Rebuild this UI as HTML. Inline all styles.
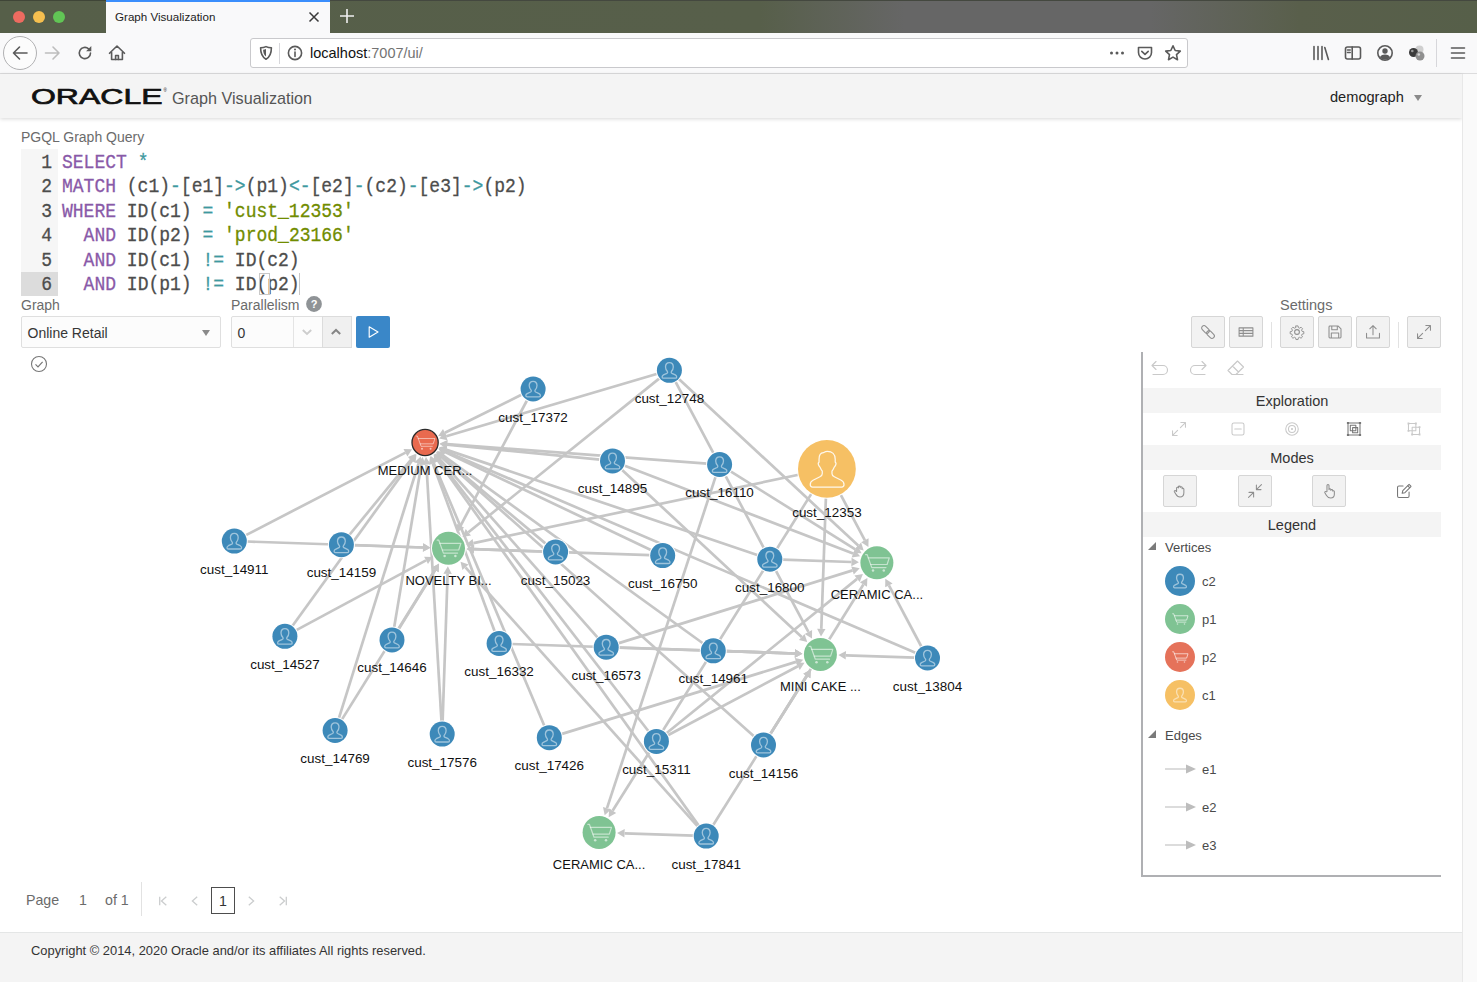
<!DOCTYPE html>
<html lang="en"><head><meta charset="utf-8"><title>Graph Visualization</title>
<style>
*{box-sizing:border-box}
html,body{margin:0;padding:0}
body{width:1477px;height:982px;position:relative;overflow:hidden;background:#fff;font-family:'Liberation Sans',Arial,sans-serif;color:#333;-webkit-font-smoothing:antialiased}
.abs{position:absolute}
#tabbar{left:0;top:0;width:1477px;height:33px;background:linear-gradient(90deg,#565f49 0,#575f4a 760px,#666666 905px,#666666 1150px,#595f4b 1300px,#565f49 100%)}
#tab{left:106px;top:0;width:224px;height:33px;background:#f9f9fa;border-top:2px solid #3b8efc}
#tabbar:before{content:'';position:absolute;left:0;top:0;width:106px;height:1px;background:#3f4537}
#tabbar:after{content:'';position:absolute;left:330px;top:0;width:1147px;height:1px;background:#44483f}
#tab span{position:absolute;left:9px;top:7.5px;font-size:11.6px;color:#222}
.tl{position:absolute;top:10.7px;width:12px;height:12px;border-radius:50%}
#toolbar{left:0;top:33px;width:1477px;height:41px;background:#f9f9fa;border-bottom:1px solid #dcdcdd}
#urlbar{left:250px;top:5px;width:938px;height:30px;background:#fff;border:1px solid #c9c9cc;border-radius:3px}
#page{left:0;top:74px;width:1462px;height:908px;background:#fff}
#vscroll{left:1462px;top:74px;width:15px;height:908px;background:#fafafa;border-left:1px solid #e8e8e8}
#hdr{left:0;top:0;width:1462px;height:44px;background:#f4f4f4;box-shadow:0 1px 4px rgba(0,0,0,.16)}
.lbl{font-size:14px;color:#6b6b6b;white-space:nowrap}
.ico{stroke:#5a5a5a;fill:none;stroke-width:1.6;stroke-linecap:round;stroke-linejoin:round}
#ed{left:21px;top:75px;width:1420px;height:147px;font-family:'Liberation Mono',monospace;font-size:20px;color:#4d4d4c;-webkit-text-stroke:.3px}
#gut{left:0;top:0;width:37px;height:147px;background:#f6f6f6}
.ln{position:absolute;left:0;height:24.5px;line-height:24.5px;white-space:pre;transform:scaleX(.9);transform-origin:0 0}
.gn{width:34.5px;text-align:right;color:#4d4d4c}
.k{color:#8959a8}.o{color:#3e999f}.s{color:#718c00}
.btn{position:absolute;width:34px;height:32px;background:#f2f2f2;border:1px solid #d6d6d6;border-radius:2px}
.btn svg,.pic svg{position:absolute;left:50%;top:50%;transform:translate(-50%,-50%)}
.gi{stroke:#8e8e8e;fill:none;stroke-width:1.15;stroke-linecap:round;stroke-linejoin:round}
.band{position:absolute;left:0;width:298px;height:25px;padding-top:1px;background:#f4f4f4;text-align:center;font-size:14.5px;line-height:25px;color:#333}
.lg{position:absolute;font-size:13px;color:#4a4a4a;white-space:nowrap}
</style></head><body>

<div id="tabbar" class="abs">
<div class="tl" style="left:13px;background:#ed6b60"></div><div class="tl" style="left:33px;background:#f5bf4f"></div><div class="tl" style="left:53px;background:#61c555"></div>
<div id="tab" class="abs"><span>Graph Visualization</span>
<svg class="abs" style="left:201px;top:8px" width="14" height="14" viewBox="0 0 14 14"><path d="M2.5,2.5l9,9M11.5,2.5l-9,9" stroke="#3a3a3a" stroke-width="1.5" fill="none"/></svg></div>
<svg class="abs" style="left:338px;top:7px" width="18" height="18" viewBox="0 0 18 18"><path d="M9,2v14M2,9h14" stroke="#f0f0f0" stroke-width="1.6" fill="none"/></svg>
</div>
<div id="toolbar" class="abs">
<div class="abs" style="left:3px;top:3px;width:34px;height:34px;border-radius:50%;border:1px solid #b1b1b3;background:#fcfcfc"></div>
<svg class="abs" style="left:10px;top:10px" width="20" height="20" viewBox="0 0 20 20"><path class="ico" stroke-width="1.8" d="M17,10H3.5M9.5,4L3.5,10l6,6"/></svg>
<svg class="abs" style="left:43px;top:10px" width="20" height="20" viewBox="0 0 20 20"><path class="ico" style="stroke:#bdbdbd" stroke-width="1.8" d="M2.5,10H16M10,4l6,6l-6,6"/></svg>
<svg class="abs" style="left:75px;top:10px" width="20" height="20" viewBox="0 0 20 20"><path class="ico" stroke-width="1.8" d="M15.5,10a5.6,5.6 0 1 1 -1.9,-4.2"/><path d="M16.3,3v5.2h-5.2z" fill="#5a5a5a"/></svg>
<svg class="abs" style="left:107px;top:10px" width="20" height="20" viewBox="0 0 20 20"><path class="ico" stroke-width="1.8" d="M2.5,10.3L10,3l7.5,7.3M4.6,9.5v7h10.8v-7"/><path d="M8.6,16.5v-4h2.8v4" class="ico" stroke-width="1.6"/></svg>
<div id="urlbar" class="abs">
<svg class="abs" style="left:7px;top:6px" width="16" height="16" viewBox="0 0 16 16"><path class="ico" stroke-width="1.5" d="M8,1.6c2,1,3.6,1.2,5.4,1.2c0,5,-1.2,9.2,-5.4,11.4c-4.200,-2.200,-5.400,-6.400,-5.400,-11.400c1.800,0,3.400,-0.200,5.400,-1.200z"/><path d="M8,4v7.600c-2,-1.500,-2.800,-4,-2.900,-6.900c1,0,2,-0.300,2.900,-0.700z" fill="#5a5a5a"/></svg>
<div class="abs" style="left:28px;top:4px;width:1px;height:21px;background:#d7d7db"></div>
<svg class="abs" style="left:36px;top:6px" width="16" height="16" viewBox="0 0 16 16"><circle cx="8" cy="8" r="6.600" class="ico" stroke-width="1.2"/><path d="M8,7v4.500" class="ico" stroke-width="1.6"/><circle cx="8" cy="4.600" r="1" fill="#5a5a5a"/></svg>
<span class="abs" style="left:59px;top:6.300px;font-size:14.500px;color:#111;white-space:nowrap">localhost<span style="color:#737373">:7007/ui/</span></span>
<svg class="abs" style="left:858px;top:6px" width="16" height="16" viewBox="0 0 16 16"><circle cx="2.500" cy="8" r="1.500" fill="#5a5a5a"/><circle cx="8" cy="8" r="1.500" fill="#5a5a5a"/><circle cx="13.500" cy="8" r="1.500" fill="#5a5a5a"/></svg>
<svg class="abs" style="left:886px;top:6px" width="16" height="16" viewBox="0 0 16 16"><path class="ico" stroke-width="1.500" d="M1.500,2.500h13v5a6.500,6.500 0 0 1 -13,0z"/><path class="ico" stroke-width="1.600" d="M4.800,6.300L8,9.300l3.200,-3"/></svg>
<svg class="abs" style="left:913px;top:5px" width="18" height="18" viewBox="0 0 18 18"><path class="ico" stroke-width="1.500" d="M9,1.800l2.200,4.700l5.100,0.600l-3.800,3.500l1,5.100l-4.500,-2.600l-4.500,2.600l1,-5.100l-3.800,-3.500l5.100,-0.600z"/></svg>
</div>
<svg class="abs" style="left:1312px;top:11px" width="18" height="18" viewBox="0 0 18 18"><path class="ico" stroke-width="1.700" d="M2,2.500v13M6,2.500v13M10,2.500v13M12.800,3.500l3.600,12"/></svg>
<svg class="abs" style="left:1344px;top:11px" width="18" height="18" viewBox="0 0 18 18"><rect x="1.500" y="3" width="15" height="12" rx="2" class="ico" stroke-width="1.500"/><path d="M8.200,3v12" class="ico" stroke-width="1.500"/><path d="M3.500,6h2.700M3.500,8.500h2.700" class="ico" stroke-width="1.200"/></svg>
<svg class="abs" style="left:1376px;top:11px" width="18" height="18" viewBox="0 0 18 18"><circle cx="9" cy="9" r="7.200" class="ico" stroke-width="1.400"/><circle cx="9" cy="7" r="2.700" fill="#5a5a5a"/><path d="M3.800,13.200c1.200,-2,3,-2.700,5.200,-2.700s4,0.700,5.200,2.700c-1.400,1.700,-3.200,2.500,-5.200,2.500s-3.800,-0.800,-5.200,-2.500z" fill="#5a5a5a"/></svg>
<svg class="abs" style="left:1407px;top:10px" width="20" height="20" viewBox="0 0 20 20"><circle cx="12.500" cy="6.500" r="4" fill="#cfcfcf"/><circle cx="6.500" cy="9.500" r="4.500" fill="#3b3b3b"/><circle cx="13" cy="13" r="4.500" fill="#8f8f8f"/><circle cx="5.300" cy="8" r="1.300" fill="#9a9a9a"/><circle cx="11.800" cy="11.500" r="1.300" fill="#d5d5d5"/></svg>
<div class="abs" style="left:1436px;top:6px;width:1px;height:28px;background:#d7d7db"></div>
<svg class="abs" style="left:1449px;top:11px" width="18" height="18" viewBox="0 0 18 18"><path class="ico" stroke-width="1.800" d="M2.500,4h13M2.500,9h13M2.500,14h13"/></svg>
</div>
<div id="page" class="abs">
<div id="hdr" class="abs">
<svg class="abs" style="left:30px;top:12px" width="140" height="20" viewBox="0 0 140 20"><text x="1" y="17.500" font-family="'Liberation Sans',Arial,sans-serif" font-size="22.800" fill="#111" stroke="#111" stroke-width=".7" textLength="131.500" lengthAdjust="spacingAndGlyphs">ORACLE</text><text x="133.500" y="6" font-family="'Liberation Sans',Arial,sans-serif" font-size="4.500" fill="#111">®</text></svg>
<span class="abs" style="left:172px;top:14.500px;font-size:16.200px;color:#555;white-space:nowrap">Graph Visualization</span>
<span class="abs" style="left:1330px;top:14.700px;font-size:14.600px;color:#222;white-space:nowrap">demograph</span>
<div class="abs" style="left:1413.500px;top:20.500px;width:0;height:0;border-left:4.500px solid transparent;border-right:4.500px solid transparent;border-top:6px solid #8a8a8a"></div>
</div>
<span class="lbl abs" style="left:21px;top:54.700px">PGQL Graph Query</span>
<div id="ed" class="abs"><div id="gut" class="abs"><div class="abs" style="left:0;top:122.500px;width:37px;height:24.500px;background:#dcdcdc"></div></div>
<div class="ln gn" style="top:1.7px">1</div><div class="ln" style="left:41px;top:1.7px"><span class="k">SELECT</span> <span class="o">*</span></div>
<div class="ln gn" style="top:26.2px">2</div><div class="ln" style="left:41px;top:26.2px"><span class="k">MATCH</span> (c1)<span class="o">-</span>[e1]<span class="o">-&gt;</span>(p1)<span class="o">&lt;-</span>[e2]<span class="o">-</span>(c2)<span class="o">-</span>[e3]<span class="o">-&gt;</span>(p2)</div>
<div class="ln gn" style="top:50.7px">3</div><div class="ln" style="left:41px;top:50.7px"><span class="k">WHERE</span> ID(c1) <span class="o">=</span> <span class="s">'cust_12353'</span></div>
<div class="ln gn" style="top:75.2px">4</div><div class="ln" style="left:41px;top:75.2px">  <span class="k">AND</span> ID(p2) <span class="o">=</span> <span class="s">'prod_23166'</span></div>
<div class="ln gn" style="top:99.7px">5</div><div class="ln" style="left:41px;top:99.7px">  <span class="k">AND</span> ID(c1) <span class="o">!=</span> ID(c2)</div>
<div class="ln gn" style="top:124.2px">6</div><div class="ln" style="left:41px;top:124.2px">  <span class="k">AND</span> ID(p1) <span class="o">!=</span> ID(p2)</div>
<div class="abs" style="left:237.500px;top:124px;width:11px;height:22px;border:1px solid #c8c8c8"></div><div class="abs" style="left:277.500px;top:124px;width:1px;height:22px;background:#c8c8c8"></div>
</div>
<span class="lbl abs" style="left:21px;top:223px">Graph</span>
<div class="abs" style="left:21px;top:242px;width:200px;height:32px;border:1px solid #dfdfdf;border-radius:2px;background:#fcfcfc"><span class="abs" style="left:5.500px;top:7.500px;font-size:14px;color:#363636;white-space:nowrap">Online Retail</span>
<div class="abs" style="left:180px;top:13px;width:0;height:0;border-left:4.500px solid transparent;border-right:4.500px solid transparent;border-top:6px solid #8a8a8a"></div></div>
<span class="lbl abs" style="left:231px;top:223px">Parallelism</span>
<svg class="abs" style="left:306px;top:222px" width="16" height="16" viewBox="0 0 16 16"><circle cx="8" cy="8" r="7.900" fill="#8f9396"/><text x="8" y="12" text-anchor="middle" font-family="'Liberation Sans',Arial,sans-serif" font-weight="bold" font-size="11" fill="#fff">?</text></svg>
<div class="abs" style="left:231px;top:242px;width:121px;height:32px;border:1px solid #dfdfdf;border-radius:2px;background:#fcfcfc"><span class="abs" style="left:5.500px;top:7.500px;font-size:14px;color:#363636">0</span>
<div class="abs" style="left:61px;top:0;width:1px;height:30px;background:#e4e4e4"></div>
<svg class="abs" style="left:69px;top:9px" width="12" height="12" viewBox="0 0 12 12"><path d="M1.800,4l4.200,4l4.200,-4" stroke="#cdcdcd" stroke-width="1.900" fill="none"/></svg>
<div class="abs" style="left:90px;top:-1px;width:30px;height:32px;background:#f0f0f0;border:1px solid #dcdcdc"></div>
<svg class="abs" style="left:98px;top:9px" width="12" height="12" viewBox="0 0 12 12"><path d="M1.800,8l4.200,-4l4.200,4" stroke="#858585" stroke-width="2" fill="none"/></svg></div>
<div class="abs" style="left:356px;top:242px;width:34px;height:32px;background:#3a87c8;border-radius:2px"><svg class="abs" style="left:10px;top:8px" width="16" height="16" viewBox="0 0 16 16"><path d="M3.200,2.800L12,8L3.200,13.200z" stroke="#fff" stroke-width="1.150" fill="none" stroke-linejoin="round"/></svg></div>
<svg class="abs" style="left:30px;top:281px" width="18" height="18" viewBox="0 0 18 18"><circle cx="9" cy="9" r="7.500" stroke="#777" stroke-width="1.100" fill="none"/><path d="M5.500,9.300l2.500,2.500l4.600,-5" stroke="#777" stroke-width="1.200" fill="none"/></svg>
<span class="lbl abs" style="left:1280px;top:223.300px;font-size:14.500px">Settings</span>
<div class="btn" style="left:1191px;top:242px"><svg width="16.600" height="16.600" viewBox="0 0 18 18"><g class="gi" transform="rotate(-45 9 9)"><rect x="6.400" y="0.300" width="5.200" height="9.600" rx="2.600"/><rect x="6.400" y="8.100" width="5.200" height="9.600" rx="2.600"/></g></svg></div>
<div class="btn" style="left:1229px;top:242px"><svg width="16.600" height="16.600" viewBox="0 0 18 18"><path class="gi" d="M1.500,4.500h15v9h-15zM1.500,7.500h15M1.500,10.500h15M6,4.500v9"/></svg></div>
<div class="btn" style="left:1280px;top:242px"><svg width="16.600" height="16.600" viewBox="0 0 18 18"><circle class="gi" cx="9" cy="9" r="2.600"/><path class="gi" d="M7.700,1.500h2.600l0.400,2.100l1.500,0.700l1.800,-1.200l1.800,1.800l-1.200,1.800l0.700,1.500l2.100,0.400v2.600l-2.100,0.400l-0.700,1.500l1.200,1.800l-1.800,1.800l-1.800,-1.200l-1.500,0.700l-0.400,2.100h-2.600l-0.400,-2.100l-1.500,-0.700l-1.800,1.200l-1.800,-1.800l1.200,-1.800l-0.700,-1.500l-2.100,-0.400v-2.600l2.100,-0.400l0.700,-1.500l-1.200,-1.800l1.800,-1.800l1.800,1.200l1.500,-0.700z" transform="translate(9 9) scale(.88) translate(-9 -9)"/></svg></div>
<div class="btn" style="left:1318px;top:242px"><svg width="16.600" height="16.600" viewBox="0 0 18 18"><path class="gi" d="M3.500,2.500h9l3,3v9a1,1 0 0 1 -1,1h-11a1,1 0 0 1 -1,-1v-11a1,1 0 0 1 1,-1zM5.500,2.500v4h6v-4M5,15.500v-5.500h8v5.500"/></svg></div>
<div class="btn" style="left:1356px;top:242px"><svg width="16.600" height="16.600" viewBox="0 0 18 18"><path class="gi" d="M2,10.500v5h14v-5M9,12v-10M5.500,5.500l3.500,-3.500l3.500,3.500"/></svg></div>
<div class="btn" style="left:1407px;top:242px"><svg width="16.600" height="16.600" viewBox="0 0 18 18"><path class="gi" d="M10.500,7.500l5.500,-5.500M11,2h5v5M7.500,10.500l-5.500,5.500M2,11v5h5"/></svg></div>
<div class="abs" style="left:1271px;top:248px;width:1px;height:26px;background:#e2e2e2"></div><div class="abs" style="left:1398px;top:248px;width:1px;height:26px;background:#e2e2e2"></div>
</div>
<svg id="graph" width="1120" height="530" viewBox="20 352 1120 530" style="position:absolute;left:20px;top:352px">
<g stroke="#c6c6c6" stroke-width="2.7" fill="#c6c6c6">
<path d="M245.4,535.4L405.5,452.6"/><path stroke="none" d="M412.1,449.2L407.4,456.4L403.5,448.9z"/>
<path d="M349.3,535.0L411.1,459.6"/><path stroke="none" d="M415.9,453.8L414.3,462.3L407.8,456.9z"/>
<path d="M546.0,543.9L442.0,456.7"/><path stroke="none" d="M436.3,451.9L444.7,453.5L439.3,459.9z"/>
<path d="M651.4,550.2L445.1,452.0"/><path stroke="none" d="M438.3,448.8L446.9,448.2L443.3,455.8z"/>
<path d="M758.0,555.2L446.0,449.6"/><path stroke="none" d="M438.9,447.2L447.4,445.6L444.7,453.6z"/>
<path d="M292.2,626.2L412.1,460.4"/><path stroke="none" d="M416.5,454.3L415.5,462.9L408.7,457.9z"/>
<path d="M394.1,627.6L421.4,464.3"/><path stroke="none" d="M422.7,456.9L425.6,465.0L417.3,463.6z"/>
<path d="M494.8,631.8L432.7,463.2"/><path stroke="none" d="M430.1,456.2L436.7,461.8L428.8,464.7z"/>
<path d="M597.9,637.8L439.7,459.1"/><path stroke="none" d="M434.8,453.4L442.9,456.3L436.6,461.8z"/>
<path d="M703.2,643.5L443.0,455.4"/><path stroke="none" d="M436.9,451.1L445.5,452.0L440.6,458.8z"/>
<path d="M916.0,653.1L445.4,451.2"/><path stroke="none" d="M438.5,448.3L447.1,447.4L443.8,455.1z"/>
<path d="M338.8,718.6L418.5,463.6"/><path stroke="none" d="M420.7,456.4L422.5,464.8L414.5,462.3z"/>
<path d="M441.5,721.6L426.4,464.6"/><path stroke="none" d="M426.0,457.1L430.6,464.3L422.2,464.8z"/>
<path d="M544.5,726.2L433.7,462.9"/><path stroke="none" d="M430.8,456.0L437.5,461.2L429.8,464.5z"/>
<path d="M648.7,731.5L438.6,460.0"/><path stroke="none" d="M434.0,454.0L441.9,457.4L435.3,462.5z"/>
<path d="M754.2,736.6L441.6,457.2"/><path stroke="none" d="M436.0,452.2L444.4,454.1L438.8,460.4z"/>
<path d="M698.9,825.9L437.9,460.5"/><path stroke="none" d="M433.6,454.4L441.4,458.0L434.5,462.9z"/>
<path d="M600.1,459.7L447.1,444.7"/><path stroke="none" d="M439.6,443.9L447.5,440.5L446.7,448.8z"/>
<path d="M707.1,463.6L447.1,444.1"/><path stroke="none" d="M439.7,443.6L447.5,440.0L446.8,448.3z"/>
<path d="M657.4,373.8L446.3,436.2"/><path stroke="none" d="M439.1,438.4L445.1,432.2L447.5,440.3z"/>
<path d="M521.9,394.5L444.9,432.7"/><path stroke="none" d="M438.2,436.0L443.0,428.9L446.8,436.5z"/>
<path d="M798.6,474.8L473.5,543.1"/><path stroke="none" d="M466.1,544.6L472.6,539.0L474.3,547.2z"/>
<path d="M840.5,494.4L864.9,540.3"/><path stroke="none" d="M868.4,546.9L861.2,542.3L868.6,538.3z"/>
<path d="M825.9,497.8L821.3,628.9"/><path stroke="none" d="M821.0,636.4L817.1,628.8L825.5,629.1z"/>
<path d="M811.6,493.4L612.6,810.8"/><path stroke="none" d="M608.7,817.2L609.1,808.6L616.2,813.1z"/>
<path d="M527.2,400.0L460.5,525.8"/><path stroke="none" d="M456.9,532.4L456.7,523.8L464.2,527.8z"/>
<path d="M659.7,378.1L468.4,532.3"/><path stroke="none" d="M462.5,537.0L465.7,529.1L471.0,535.6z"/>
<path d="M678.6,378.8L858.2,545.5"/><path stroke="none" d="M863.7,550.6L855.4,548.6L861.1,542.4z"/>
<path d="M675.3,381.3L808.4,631.9"/><path stroke="none" d="M812.0,638.5L804.7,633.9L812.1,629.9z"/>
<path d="M624.2,465.4L853.1,553.6"/><path stroke="none" d="M860.1,556.3L851.6,557.6L854.6,549.7z"/>
<path d="M621.6,469.4L801.7,637.0"/><path stroke="none" d="M807.2,642.1L798.9,640.1L804.6,634.0z"/>
<path d="M730.2,471.1L855.3,549.3"/><path stroke="none" d="M861.6,553.3L853.1,552.9L857.5,545.7z"/>
<path d="M715.7,476.4L607.0,808.2"/><path stroke="none" d="M604.7,815.3L603.0,806.9L611.0,809.5z"/>
<path d="M246.8,541.5L423.0,547.5"/><path stroke="none" d="M430.5,547.7L422.9,551.7L423.2,543.3z"/>
<path d="M353.9,545.1L423.0,547.5"/><path stroke="none" d="M430.5,547.7L422.9,551.7L423.2,543.3z"/>
<path d="M543.1,551.5L474.0,549.2"/><path stroke="none" d="M466.5,548.9L474.1,545.0L473.8,553.4z"/>
<path d="M650.2,555.2L474.0,549.2"/><path stroke="none" d="M466.5,548.9L474.1,545.0L473.8,553.4z"/>
<path d="M782.3,559.6L851.4,562.0"/><path stroke="none" d="M858.9,562.2L851.3,566.2L851.6,557.8z"/>
<path d="M295.9,630.4L426.0,560.4"/><path stroke="none" d="M432.6,556.9L428.0,564.1L424.1,556.7z"/>
<path d="M398.6,629.3L435.1,570.0"/><path stroke="none" d="M439.0,563.7L438.7,572.2L431.5,567.8z"/>
<path d="M511.6,644.0L794.9,653.5"/><path stroke="none" d="M802.4,653.8L794.8,657.7L795.1,649.3z"/>
<path d="M618.1,643.4L852.6,570.4"/><path stroke="none" d="M859.7,568.2L853.8,574.4L851.3,566.4z"/>
<path d="M618.7,647.6L794.9,653.5"/><path stroke="none" d="M802.4,653.8L794.8,657.7L795.1,649.3z"/>
<path d="M725.8,651.2L794.9,653.5"/><path stroke="none" d="M802.4,653.8L794.8,657.7L795.1,649.3z"/>
<path d="M915.0,657.6L845.9,655.3"/><path stroke="none" d="M838.4,655.0L846.0,651.1L845.7,659.5z"/>
<path d="M921.6,647.0L888.9,585.3"/><path stroke="none" d="M885.3,578.7L892.6,583.4L885.2,587.3z"/>
<path d="M341.7,719.9L435.0,570.0"/><path stroke="none" d="M439.0,563.6L438.6,572.2L431.5,567.8z"/>
<path d="M442.6,721.6L447.6,573.8"/><path stroke="none" d="M447.9,566.3L451.8,574.0L443.4,573.7z"/>
<path d="M561.2,734.1L796.0,661.9"/><path stroke="none" d="M803.2,659.7L797.3,665.9L794.8,657.9z"/>
<path d="M667.4,735.5L797.9,666.3"/><path stroke="none" d="M804.5,662.8L799.8,670.1L795.9,662.6z"/>
<path d="M666.1,733.5L857.1,578.9"/><path stroke="none" d="M862.9,574.1L859.7,582.1L854.4,575.6z"/>
<path d="M770.1,734.4L806.8,676.0"/><path stroke="none" d="M810.8,669.6L810.4,678.2L803.3,673.8z"/>
<path d="M770.1,734.4L863.4,584.5"/><path stroke="none" d="M867.4,578.1L867.0,586.7L859.9,582.2z"/>
<path d="M693.7,835.6L624.6,833.3"/><path stroke="none" d="M617.1,833.0L624.7,829.1L624.4,837.5z"/>
<path d="M697.9,826.7L465.5,567.3"/><path stroke="none" d="M460.5,561.7L468.6,564.5L462.4,570.1z"/>
<path d="M712.9,825.5L806.8,676.0"/><path stroke="none" d="M810.8,669.6L810.4,678.2L803.3,673.8z"/>
</g>
<g font-family="'Liberation Sans',Arial,sans-serif" font-size="13.45" text-anchor="middle" fill="#111">
<g transform="translate(234.3,541.1)"><circle r="13.5" fill="#fff"/><circle r="12.5" fill="#3d89b9" /><path transform="scale(1.000)" d="M0,-7.7C2.4,-7.700 3.900,-5.900 3.900,-3.400C3.900,-1.500 3,0 2,1.200C1.600,1.800 1.800,2.600 2.500,3L5.900,4.600C6.800,5.100 7.300,5.700 7.300,6.600C7.300,7.400 6.800,7.900 6,7.900H-6C-6.800,7.900 -7.300,7.400 -7.300,6.600C-7.300,5.700 -6.800,5.100 -5.900,4.600L-2.500,3C-1.800,2.600 -1.600,1.800 -2,1.200C-3,0 -3.900,-1.500 -3.900,-3.400C-3.900,-5.900 -2.400,-7.700 0,-7.700Z" fill="none" stroke="#fff" stroke-opacity="0.5" stroke-width="1.30" stroke-linejoin="round"/></g>
<text x="234.3" y="573.6">cust_14911</text>
<g transform="translate(341.4,544.7)"><circle r="13.5" fill="#fff"/><circle r="12.5" fill="#3d89b9" /><path transform="scale(1.000)" d="M0,-7.7C2.4,-7.700 3.900,-5.900 3.900,-3.400C3.900,-1.500 3,0 2,1.200C1.600,1.800 1.800,2.600 2.500,3L5.900,4.600C6.800,5.100 7.300,5.700 7.300,6.600C7.300,7.400 6.800,7.900 6,7.900H-6C-6.800,7.900 -7.300,7.400 -7.300,6.600C-7.300,5.700 -6.800,5.100 -5.900,4.600L-2.500,3C-1.800,2.600 -1.600,1.800 -2,1.200C-3,0 -3.900,-1.500 -3.900,-3.400C-3.900,-5.900 -2.400,-7.700 0,-7.700Z" fill="none" stroke="#fff" stroke-opacity="0.5" stroke-width="1.30" stroke-linejoin="round"/></g>
<text x="341.4" y="577.2">cust_14159</text>
<g transform="translate(448.5,548.3)"><circle r="17.5" fill="#fff"/><circle r="16.5" fill="#7fc393" /><g transform="scale(1.000)" fill="none" stroke="#fff" stroke-opacity=".55" stroke-width="1.2" stroke-linecap="round" stroke-linejoin="round"><path d="M-11.3,-8.1H-9.7L-5.1,4.8H9.1"/><path d="M-8.7,-5H12.4L10.2,1.700H-6.100"/><circle cx="-3.900" cy="7.800" r="1.250" fill="#fff" fill-opacity=".6" stroke="none"/><circle cx="6.900" cy="7.800" r="1.250" fill="#fff" fill-opacity=".6" stroke="none"/></g></g>
<text x="448.5" y="584.6" font-size="13">NOVELTY BI...</text>
<g transform="translate(555.6,552.0)"><circle r="13.5" fill="#fff"/><circle r="12.5" fill="#3d89b9" /><path transform="scale(1.000)" d="M0,-7.7C2.4,-7.700 3.900,-5.900 3.900,-3.400C3.900,-1.500 3,0 2,1.200C1.600,1.800 1.800,2.600 2.500,3L5.900,4.600C6.800,5.100 7.300,5.700 7.300,6.600C7.300,7.400 6.800,7.900 6,7.900H-6C-6.800,7.900 -7.300,7.400 -7.300,6.600C-7.300,5.700 -6.800,5.100 -5.900,4.600L-2.500,3C-1.800,2.600 -1.600,1.800 -2,1.200C-3,0 -3.900,-1.500 -3.900,-3.400C-3.900,-5.900 -2.400,-7.700 0,-7.700Z" fill="none" stroke="#fff" stroke-opacity="0.5" stroke-width="1.30" stroke-linejoin="round"/></g>
<text x="555.6" y="584.5">cust_15023</text>
<g transform="translate(662.7,555.6)"><circle r="13.5" fill="#fff"/><circle r="12.5" fill="#3d89b9" /><path transform="scale(1.000)" d="M0,-7.7C2.4,-7.700 3.900,-5.900 3.900,-3.400C3.900,-1.500 3,0 2,1.200C1.600,1.800 1.800,2.600 2.500,3L5.900,4.600C6.800,5.100 7.300,5.700 7.300,6.600C7.300,7.400 6.800,7.900 6,7.900H-6C-6.800,7.900 -7.300,7.400 -7.300,6.600C-7.300,5.700 -6.800,5.100 -5.900,4.600L-2.500,3C-1.800,2.600 -1.600,1.800 -2,1.200C-3,0 -3.900,-1.500 -3.900,-3.400C-3.900,-5.900 -2.400,-7.700 0,-7.700Z" fill="none" stroke="#fff" stroke-opacity="0.5" stroke-width="1.30" stroke-linejoin="round"/></g>
<text x="662.7" y="588.1">cust_16750</text>
<g transform="translate(769.8,559.2)"><circle r="13.5" fill="#fff"/><circle r="12.5" fill="#3d89b9" /><path transform="scale(1.000)" d="M0,-7.7C2.4,-7.700 3.900,-5.900 3.900,-3.400C3.900,-1.500 3,0 2,1.200C1.600,1.800 1.800,2.600 2.500,3L5.900,4.600C6.800,5.100 7.300,5.700 7.300,6.600C7.300,7.400 6.800,7.900 6,7.900H-6C-6.800,7.900 -7.300,7.400 -7.300,6.600C-7.300,5.700 -6.800,5.100 -5.900,4.600L-2.500,3C-1.800,2.600 -1.600,1.800 -2,1.200C-3,0 -3.900,-1.500 -3.900,-3.400C-3.900,-5.900 -2.400,-7.700 0,-7.700Z" fill="none" stroke="#fff" stroke-opacity="0.5" stroke-width="1.30" stroke-linejoin="round"/></g>
<text x="769.8" y="591.7">cust_16800</text>
<g transform="translate(876.9,562.8)"><circle r="17.5" fill="#fff"/><circle r="16.5" fill="#7fc393" /><g transform="scale(1.000)" fill="none" stroke="#fff" stroke-opacity=".55" stroke-width="1.2" stroke-linecap="round" stroke-linejoin="round"><path d="M-11.3,-8.1H-9.7L-5.1,4.8H9.1"/><path d="M-8.7,-5H12.4L10.2,1.700H-6.100"/><circle cx="-3.900" cy="7.800" r="1.250" fill="#fff" fill-opacity=".6" stroke="none"/><circle cx="6.900" cy="7.800" r="1.250" fill="#fff" fill-opacity=".6" stroke="none"/></g></g>
<text x="876.9" y="599.1" font-size="13">CERAMIC CA...</text>
<g transform="translate(284.9,636.3)"><circle r="13.5" fill="#fff"/><circle r="12.5" fill="#3d89b9" /><path transform="scale(1.000)" d="M0,-7.7C2.4,-7.700 3.900,-5.900 3.900,-3.400C3.900,-1.500 3,0 2,1.200C1.600,1.800 1.800,2.600 2.500,3L5.900,4.600C6.800,5.100 7.300,5.700 7.300,6.600C7.300,7.400 6.800,7.900 6,7.900H-6C-6.800,7.900 -7.300,7.400 -7.300,6.600C-7.300,5.700 -6.800,5.100 -5.900,4.600L-2.500,3C-1.800,2.600 -1.600,1.800 -2,1.200C-3,0 -3.900,-1.500 -3.900,-3.400C-3.900,-5.900 -2.400,-7.700 0,-7.700Z" fill="none" stroke="#fff" stroke-opacity="0.5" stroke-width="1.30" stroke-linejoin="round"/></g>
<text x="284.9" y="668.8">cust_14527</text>
<g transform="translate(392.0,639.9)"><circle r="13.5" fill="#fff"/><circle r="12.5" fill="#3d89b9" /><path transform="scale(1.000)" d="M0,-7.7C2.4,-7.700 3.900,-5.900 3.900,-3.400C3.900,-1.500 3,0 2,1.200C1.600,1.800 1.800,2.600 2.500,3L5.900,4.600C6.800,5.100 7.300,5.700 7.300,6.600C7.300,7.400 6.800,7.900 6,7.900H-6C-6.800,7.900 -7.300,7.400 -7.300,6.600C-7.300,5.700 -6.800,5.100 -5.900,4.600L-2.500,3C-1.800,2.600 -1.600,1.800 -2,1.200C-3,0 -3.900,-1.500 -3.900,-3.400C-3.900,-5.900 -2.400,-7.700 0,-7.700Z" fill="none" stroke="#fff" stroke-opacity="0.5" stroke-width="1.30" stroke-linejoin="round"/></g>
<text x="392.0" y="672.4">cust_14646</text>
<g transform="translate(499.1,643.5)"><circle r="13.5" fill="#fff"/><circle r="12.5" fill="#3d89b9" /><path transform="scale(1.000)" d="M0,-7.7C2.4,-7.700 3.900,-5.900 3.900,-3.400C3.900,-1.500 3,0 2,1.200C1.600,1.800 1.800,2.600 2.500,3L5.900,4.600C6.800,5.100 7.300,5.700 7.300,6.600C7.300,7.400 6.800,7.900 6,7.900H-6C-6.800,7.900 -7.300,7.400 -7.300,6.600C-7.300,5.700 -6.800,5.100 -5.900,4.600L-2.500,3C-1.800,2.600 -1.600,1.800 -2,1.200C-3,0 -3.900,-1.500 -3.900,-3.400C-3.900,-5.900 -2.400,-7.700 0,-7.700Z" fill="none" stroke="#fff" stroke-opacity="0.5" stroke-width="1.30" stroke-linejoin="round"/></g>
<text x="499.1" y="676.0">cust_16332</text>
<g transform="translate(606.2,647.2)"><circle r="13.5" fill="#fff"/><circle r="12.5" fill="#3d89b9" /><path transform="scale(1.000)" d="M0,-7.7C2.4,-7.700 3.900,-5.900 3.900,-3.400C3.900,-1.500 3,0 2,1.200C1.600,1.800 1.800,2.600 2.500,3L5.900,4.600C6.800,5.100 7.300,5.700 7.300,6.600C7.300,7.400 6.800,7.900 6,7.900H-6C-6.800,7.900 -7.300,7.400 -7.300,6.600C-7.300,5.700 -6.800,5.100 -5.900,4.600L-2.500,3C-1.800,2.600 -1.600,1.800 -2,1.200C-3,0 -3.900,-1.500 -3.900,-3.400C-3.900,-5.900 -2.400,-7.700 0,-7.700Z" fill="none" stroke="#fff" stroke-opacity="0.5" stroke-width="1.30" stroke-linejoin="round"/></g>
<text x="606.2" y="679.7">cust_16573</text>
<g transform="translate(713.3,650.8)"><circle r="13.5" fill="#fff"/><circle r="12.5" fill="#3d89b9" /><path transform="scale(1.000)" d="M0,-7.7C2.4,-7.700 3.900,-5.900 3.900,-3.400C3.900,-1.500 3,0 2,1.200C1.600,1.800 1.800,2.600 2.500,3L5.900,4.600C6.800,5.100 7.300,5.700 7.300,6.600C7.300,7.400 6.800,7.900 6,7.900H-6C-6.800,7.900 -7.300,7.400 -7.300,6.600C-7.300,5.700 -6.800,5.100 -5.900,4.600L-2.500,3C-1.800,2.600 -1.600,1.800 -2,1.200C-3,0 -3.900,-1.500 -3.900,-3.400C-3.900,-5.900 -2.400,-7.700 0,-7.700Z" fill="none" stroke="#fff" stroke-opacity="0.5" stroke-width="1.30" stroke-linejoin="round"/></g>
<text x="713.3" y="683.3">cust_14961</text>
<g transform="translate(820.4,654.4)"><circle r="17.5" fill="#fff"/><circle r="16.5" fill="#7fc393" /><g transform="scale(1.000)" fill="none" stroke="#fff" stroke-opacity=".55" stroke-width="1.2" stroke-linecap="round" stroke-linejoin="round"><path d="M-11.3,-8.1H-9.7L-5.1,4.8H9.1"/><path d="M-8.7,-5H12.4L10.2,1.700H-6.100"/><circle cx="-3.900" cy="7.800" r="1.250" fill="#fff" fill-opacity=".6" stroke="none"/><circle cx="6.900" cy="7.800" r="1.250" fill="#fff" fill-opacity=".6" stroke="none"/></g></g>
<text x="820.4" y="690.7" font-size="13">MINI CAKE ...</text>
<g transform="translate(927.5,658.0)"><circle r="13.5" fill="#fff"/><circle r="12.5" fill="#3d89b9" /><path transform="scale(1.000)" d="M0,-7.7C2.4,-7.700 3.900,-5.900 3.900,-3.400C3.900,-1.500 3,0 2,1.200C1.600,1.800 1.800,2.600 2.500,3L5.900,4.600C6.800,5.100 7.300,5.700 7.300,6.600C7.300,7.400 6.800,7.900 6,7.900H-6C-6.800,7.900 -7.300,7.400 -7.300,6.600C-7.300,5.700 -6.800,5.100 -5.900,4.600L-2.500,3C-1.800,2.600 -1.600,1.800 -2,1.200C-3,0 -3.900,-1.500 -3.900,-3.400C-3.900,-5.900 -2.400,-7.700 0,-7.700Z" fill="none" stroke="#fff" stroke-opacity="0.5" stroke-width="1.30" stroke-linejoin="round"/></g>
<text x="927.5" y="690.5">cust_13804</text>
<g transform="translate(335.1,730.5)"><circle r="13.5" fill="#fff"/><circle r="12.5" fill="#3d89b9" /><path transform="scale(1.000)" d="M0,-7.7C2.4,-7.700 3.900,-5.900 3.900,-3.400C3.900,-1.500 3,0 2,1.200C1.600,1.800 1.800,2.600 2.500,3L5.900,4.600C6.800,5.100 7.300,5.700 7.300,6.600C7.300,7.400 6.800,7.900 6,7.900H-6C-6.800,7.900 -7.300,7.400 -7.300,6.600C-7.300,5.700 -6.800,5.100 -5.900,4.600L-2.500,3C-1.800,2.600 -1.600,1.800 -2,1.200C-3,0 -3.900,-1.500 -3.900,-3.400C-3.900,-5.900 -2.400,-7.700 0,-7.700Z" fill="none" stroke="#fff" stroke-opacity="0.5" stroke-width="1.30" stroke-linejoin="round"/></g>
<text x="335.1" y="763.0">cust_14769</text>
<g transform="translate(442.2,734.1)"><circle r="13.5" fill="#fff"/><circle r="12.5" fill="#3d89b9" /><path transform="scale(1.000)" d="M0,-7.7C2.4,-7.700 3.900,-5.900 3.900,-3.400C3.900,-1.500 3,0 2,1.200C1.600,1.800 1.800,2.600 2.500,3L5.900,4.600C6.800,5.100 7.300,5.700 7.300,6.600C7.300,7.400 6.800,7.900 6,7.900H-6C-6.800,7.900 -7.300,7.400 -7.300,6.600C-7.300,5.700 -6.800,5.100 -5.900,4.600L-2.500,3C-1.800,2.600 -1.600,1.800 -2,1.200C-3,0 -3.900,-1.500 -3.900,-3.400C-3.900,-5.900 -2.400,-7.700 0,-7.700Z" fill="none" stroke="#fff" stroke-opacity="0.5" stroke-width="1.30" stroke-linejoin="round"/></g>
<text x="442.2" y="766.6">cust_17576</text>
<g transform="translate(549.3,737.7)"><circle r="13.5" fill="#fff"/><circle r="12.5" fill="#3d89b9" /><path transform="scale(1.000)" d="M0,-7.7C2.4,-7.700 3.900,-5.900 3.900,-3.400C3.900,-1.500 3,0 2,1.200C1.600,1.800 1.800,2.600 2.500,3L5.900,4.600C6.800,5.100 7.300,5.700 7.300,6.600C7.300,7.400 6.800,7.900 6,7.900H-6C-6.800,7.900 -7.300,7.400 -7.300,6.600C-7.300,5.700 -6.800,5.100 -5.900,4.600L-2.500,3C-1.800,2.600 -1.600,1.800 -2,1.200C-3,0 -3.900,-1.500 -3.900,-3.400C-3.900,-5.900 -2.400,-7.700 0,-7.700Z" fill="none" stroke="#fff" stroke-opacity="0.5" stroke-width="1.30" stroke-linejoin="round"/></g>
<text x="549.3" y="770.2">cust_17426</text>
<g transform="translate(656.4,741.4)"><circle r="13.5" fill="#fff"/><circle r="12.5" fill="#3d89b9" /><path transform="scale(1.000)" d="M0,-7.7C2.4,-7.700 3.900,-5.900 3.900,-3.400C3.900,-1.500 3,0 2,1.200C1.600,1.800 1.800,2.600 2.500,3L5.900,4.600C6.800,5.100 7.300,5.700 7.300,6.600C7.300,7.400 6.800,7.900 6,7.900H-6C-6.800,7.900 -7.300,7.400 -7.300,6.600C-7.300,5.700 -6.800,5.100 -5.900,4.600L-2.500,3C-1.800,2.600 -1.600,1.800 -2,1.200C-3,0 -3.900,-1.500 -3.900,-3.400C-3.900,-5.900 -2.400,-7.700 0,-7.700Z" fill="none" stroke="#fff" stroke-opacity="0.5" stroke-width="1.30" stroke-linejoin="round"/></g>
<text x="656.4" y="773.9">cust_15311</text>
<g transform="translate(763.5,745.0)"><circle r="13.5" fill="#fff"/><circle r="12.5" fill="#3d89b9" /><path transform="scale(1.000)" d="M0,-7.7C2.4,-7.700 3.900,-5.900 3.900,-3.400C3.900,-1.500 3,0 2,1.200C1.600,1.800 1.800,2.600 2.500,3L5.900,4.600C6.800,5.100 7.300,5.700 7.300,6.600C7.300,7.400 6.800,7.900 6,7.900H-6C-6.800,7.900 -7.300,7.400 -7.300,6.600C-7.300,5.700 -6.800,5.100 -5.900,4.600L-2.500,3C-1.800,2.600 -1.600,1.800 -2,1.200C-3,0 -3.900,-1.500 -3.900,-3.400C-3.900,-5.900 -2.400,-7.700 0,-7.700Z" fill="none" stroke="#fff" stroke-opacity="0.5" stroke-width="1.30" stroke-linejoin="round"/></g>
<text x="763.5" y="777.5">cust_14156</text>
<g transform="translate(599.1,832.4)"><circle r="17.5" fill="#fff"/><circle r="16.5" fill="#7fc393" /><g transform="scale(1.000)" fill="none" stroke="#fff" stroke-opacity=".55" stroke-width="1.2" stroke-linecap="round" stroke-linejoin="round"><path d="M-11.3,-8.1H-9.7L-5.1,4.8H9.1"/><path d="M-8.7,-5H12.4L10.2,1.700H-6.100"/><circle cx="-3.900" cy="7.800" r="1.250" fill="#fff" fill-opacity=".6" stroke="none"/><circle cx="6.900" cy="7.800" r="1.250" fill="#fff" fill-opacity=".6" stroke="none"/></g></g>
<text x="599.1" y="868.7" font-size="13">CERAMIC CA...</text>
<g transform="translate(706.2,836.1)"><circle r="13.5" fill="#fff"/><circle r="12.5" fill="#3d89b9" /><path transform="scale(1.000)" d="M0,-7.7C2.4,-7.700 3.900,-5.900 3.900,-3.400C3.900,-1.500 3,0 2,1.200C1.600,1.800 1.800,2.600 2.500,3L5.900,4.600C6.800,5.100 7.300,5.700 7.300,6.600C7.300,7.400 6.800,7.900 6,7.900H-6C-6.800,7.900 -7.300,7.400 -7.300,6.600C-7.300,5.700 -6.800,5.100 -5.900,4.600L-2.500,3C-1.800,2.600 -1.600,1.800 -2,1.200C-3,0 -3.900,-1.500 -3.900,-3.400C-3.900,-5.900 -2.400,-7.700 0,-7.700Z" fill="none" stroke="#fff" stroke-opacity="0.5" stroke-width="1.30" stroke-linejoin="round"/></g>
<text x="706.2" y="868.6">cust_17841</text>
<g transform="translate(612.5,460.9)"><circle r="13.5" fill="#fff"/><circle r="12.5" fill="#3d89b9" /><path transform="scale(1.000)" d="M0,-7.7C2.4,-7.700 3.900,-5.900 3.900,-3.400C3.900,-1.500 3,0 2,1.200C1.600,1.800 1.800,2.600 2.500,3L5.900,4.600C6.800,5.100 7.300,5.700 7.300,6.600C7.300,7.400 6.800,7.900 6,7.900H-6C-6.800,7.900 -7.300,7.400 -7.300,6.600C-7.300,5.700 -6.800,5.100 -5.900,4.600L-2.500,3C-1.800,2.600 -1.600,1.800 -2,1.200C-3,0 -3.900,-1.500 -3.900,-3.400C-3.900,-5.900 -2.400,-7.700 0,-7.700Z" fill="none" stroke="#fff" stroke-opacity="0.5" stroke-width="1.30" stroke-linejoin="round"/></g>
<text x="612.5" y="493.4">cust_14895</text>
<g transform="translate(719.6,464.5)"><circle r="13.5" fill="#fff"/><circle r="12.5" fill="#3d89b9" /><path transform="scale(1.000)" d="M0,-7.7C2.4,-7.700 3.900,-5.900 3.900,-3.400C3.900,-1.500 3,0 2,1.200C1.600,1.800 1.800,2.600 2.500,3L5.900,4.600C6.800,5.100 7.300,5.700 7.300,6.600C7.300,7.400 6.800,7.900 6,7.900H-6C-6.800,7.900 -7.300,7.400 -7.300,6.600C-7.300,5.700 -6.800,5.100 -5.900,4.600L-2.500,3C-1.800,2.600 -1.600,1.800 -2,1.200C-3,0 -3.900,-1.500 -3.900,-3.400C-3.900,-5.900 -2.400,-7.700 0,-7.700Z" fill="none" stroke="#fff" stroke-opacity="0.5" stroke-width="1.30" stroke-linejoin="round"/></g>
<text x="719.6" y="497.0">cust_16110</text>
<g transform="translate(826.9,468.9)"><circle r="29.9" fill="#fff"/><circle r="28.9" fill="#f6c064" /><path transform="scale(2.312)" d="M0.2,-7.6C-0.6,-7.6 -1,-7.3 -1.5,-7C-2.9,-6.9 -3.4,-5.6 -3.4,-4.2L-3.4,-2.9C-3.8,-2.7 -3.8,-2.2 -3.6,-1.7C-3.4,-1.1 -3.1,-0.9 -2.9,-0.6C-2.6,0.1 -2.3,0.6 -2,1V2.1C-2,2.7 -2.4,3.1 -3,3.4L-6,4.9C-6.8,5.3 -7.2,5.9 -7.2,6.8C-7.2,7.5 -6.8,7.9 -6.2,7.9H6.4C7,7.9 7.4,7.5 7.4,6.8C7.4,5.9 7,5.3 6.200,4.9L3.200,3.400C2.600,3.100 2.200,2.700 2.200,2.100V1C2.500,0.600 2.800,0.100 3.100,-0.600C3.300,-0.900 3.600,-1.100 3.800,-1.700C4,-2.200 4,-2.700 3.600,-2.900L3.600,-4.200C3.600,-6.200 2.300,-7.600 0.200,-7.600Z" fill="none" stroke="#fff" stroke-opacity="0.88" stroke-width="0.54" stroke-linejoin="round"/></g>
<text x="826.9" y="516.9">cust_12353</text>
<g transform="translate(669.4,370.3)"><circle r="13.5" fill="#fff"/><circle r="12.5" fill="#3d89b9" /><path transform="scale(1.000)" d="M0,-7.7C2.4,-7.700 3.900,-5.900 3.900,-3.400C3.900,-1.500 3,0 2,1.200C1.600,1.800 1.800,2.600 2.500,3L5.900,4.600C6.800,5.100 7.300,5.700 7.300,6.600C7.300,7.400 6.800,7.900 6,7.900H-6C-6.800,7.900 -7.300,7.400 -7.300,6.600C-7.300,5.700 -6.800,5.100 -5.900,4.600L-2.500,3C-1.800,2.600 -1.600,1.800 -2,1.200C-3,0 -3.900,-1.500 -3.900,-3.400C-3.900,-5.900 -2.400,-7.700 0,-7.700Z" fill="none" stroke="#fff" stroke-opacity="0.5" stroke-width="1.30" stroke-linejoin="round"/></g>
<text x="669.4" y="402.8">cust_12748</text>
<g transform="translate(533.1,389.0)"><circle r="13.5" fill="#fff"/><circle r="12.5" fill="#3d89b9" /><path transform="scale(1.000)" d="M0,-7.7C2.4,-7.700 3.900,-5.900 3.900,-3.400C3.900,-1.500 3,0 2,1.200C1.600,1.800 1.800,2.600 2.500,3L5.900,4.600C6.800,5.100 7.300,5.700 7.300,6.600C7.300,7.400 6.800,7.900 6,7.900H-6C-6.800,7.900 -7.300,7.400 -7.300,6.600C-7.300,5.700 -6.800,5.100 -5.900,4.600L-2.500,3C-1.800,2.600 -1.600,1.800 -2,1.200C-3,0 -3.900,-1.500 -3.900,-3.400C-3.900,-5.900 -2.400,-7.700 0,-7.700Z" fill="none" stroke="#fff" stroke-opacity="0.5" stroke-width="1.30" stroke-linejoin="round"/></g>
<text x="533.1" y="421.5">cust_17372</text>
<g transform="translate(425.1,442.5)"><circle r="13.1" fill="#e96a4f" stroke="#2b2b2b" stroke-width="1.3"/><g transform="scale(0.794)" fill="none" stroke="#fff" stroke-opacity=".55" stroke-width="1.2" stroke-linecap="round" stroke-linejoin="round"><path d="M-11.3,-8.1H-9.7L-5.1,4.8H9.1"/><path d="M-8.7,-5H12.4L10.2,1.700H-6.100"/><circle cx="-3.900" cy="7.800" r="1.250" fill="#fff" fill-opacity=".6" stroke="none"/><circle cx="6.900" cy="7.800" r="1.250" fill="#fff" fill-opacity=".6" stroke="none"/></g></g>
<text x="425.1" y="474.9" font-size="13">MEDIUM CER...</text>
</g></svg>
<div id="panel" class="abs" style="left:1141px;top:352px;width:300px;height:525px;border-left:2px solid #afb0b3;border-bottom:2px solid #afb0b3">
<div class="pic abs" style="left:0px;top:0px;width:34px;height:32px"><svg width="20" height="18" viewBox="0 0 20 18"><path class="gi" style="stroke:#c9c9c9" d="M6,2.500l-4,4l4,4M2,6.500h11a4.500,4.500 0 0 1 0,9h-10"/></svg></div>
<div class="pic abs" style="left:38px;top:0px;width:34px;height:32px"><svg width="20" height="18" viewBox="0 0 20 18"><path class="gi" style="stroke:#c9c9c9" d="M14,2.500l4,4l-4,4M18,6.500h-11a4.500,4.500 0 0 0 0,9h10"/></svg></div>
<div class="pic abs" style="left:76px;top:0px;width:34px;height:32px"><svg width="20" height="18" viewBox="0 0 20 18"><path class="gi" style="stroke:#c9c9c9" d="M11.500,2l6,6l-7.500,7.500h-4l-4,-4zM6.500,7l6,6M10,15.500h7"/></svg></div>
<div class="band" style="top:36px">Exploration</div><div class="band" style="top:93px">Modes</div><div class="band" style="top:160px">Legend</div>
<div class="pic abs" style="left:19px;top:61px;width:34px;height:32px"><svg width="16.600" height="16.600" viewBox="0 0 18 18"><path class="gi" style="stroke:#c9c9c9" d="M10.500,7.500l5.500,-5.500M11,2h5v5M7.500,10.500l-5.500,5.500M2,11v5h5"/></svg></div>
<div class="pic abs" style="left:78px;top:61px;width:34px;height:32px"><svg width="16.600" height="16.600" viewBox="0 0 18 18"><rect class="gi" style="stroke:#c9c9c9" x="2.500" y="2.500" width="13" height="13" rx="2"/><path class="gi" style="stroke:#c9c9c9" d="M5.500,9h7"/></svg></div>
<div class="pic abs" style="left:132px;top:61px;width:34px;height:32px"><svg width="16.600" height="16.600" viewBox="0 0 18 18"><circle class="gi" style="stroke:#c9c9c9" cx="9" cy="9" r="6.800"/><circle class="gi" style="stroke:#c9c9c9" cx="9" cy="9" r="3.800"/><circle cx="9" cy="9" r="1.200" fill="#c9c9c9"/></svg></div>
<div class="pic abs" style="left:194px;top:61px;width:34px;height:32px"><svg width="16.600" height="16.600" viewBox="0 0 18 18"><path class="gi" style="stroke:#777" d="M2.500,2.500h13v13h-13zM5,5h6v6h-6zM7.500,7.500h5.500v5.500h-5.500z"/><path d="M1.300,1.300h2.400v2.400h-2.400zM14.300,1.300h2.400v2.400h-2.400zM1.300,14.300h2.400v2.400h-2.400zM14.300,14.300h2.400v2.400h-2.400z" fill="#777"/></svg></div>
<div class="pic abs" style="left:254px;top:61px;width:34px;height:32px"><svg width="16.600" height="16.600" viewBox="0 0 18 18"><path class="gi" style="stroke:#c9c9c9" d="M3,3h8v8h-8zM7,7h8v8h-8z"/><path d="M2,2h2v2h-2zM10,2h2v2h-2zM2,10h2v2h-2zM14,6h2v2h-2zM6,14h2v2h-2zM14,14h2v2h-2z" fill="#c9c9c9"/></svg></div>
<div class="btn" style="left:20px;top:123px"><svg width="16.600" height="16.600" viewBox="0 0 18 18"><path class="gi" d="M5.300,9.500v-3.500a1,1 0 0 1 2,-0.300v-1a1,1 0 0 1 2,0v0.500a1,1 0 0 1 2,0.300v1a1,1 0 0 1 1.900,0.300v4.200c0,2.800,-1.700,4.500,-4.200,4.500c-2.300,0,-3.400,-1,-4.600,-3.200l-1.500,-2.600c-0.500,-1,0.800,-1.700,1.500,-0.900z"/></svg></div>
<div class="btn" style="left:95px;top:123px"><svg width="16.600" height="16.600" viewBox="0 0 18 18"><path class="gi" d="M16,2l-5.500,5.500M10.500,2.500v5h5M2,16l5.500,-5.500M7.500,15.500v-5h-5"/></svg></div>
<div class="btn" style="left:169px;top:123px"><svg width="16.600" height="16.600" viewBox="0 0 18 18"><path class="gi" d="M6.800,9.500v-6.500a1.100,1.100 0 0 1 2.200,0v4.500a1,1 0 0 1 2,0.300v0.500a1,1 0 0 1 2,0.300v0.500a1,1 0 0 1 1.800,0.500v3c0,2.500,-1.500,4,-4,4c-2.200,0,-3.300,-0.800,-4.500,-2.800l-1.800,-3c-0.500,-1,0.800,-1.700,1.500,-0.900z"/></svg></div>
<div class="pic abs" style="left:243.6px;top:123px;width:34px;height:32px"><svg width="16.600" height="16.600" viewBox="0 0 18 18"><path class="gi" style="stroke:#777" d="M8,3.500h-4.500a1.500,1.500 0 0 0 -1.500,1.500v9.500a1.500,1.500 0 0 0 1.500,1.500h9.500a1.500,1.500 0 0 0 1.500,-1.500v-4.500M7,11.500l0.700,-3l6.800,-6.800l2.300,2.300l-6.800,6.800zM13,3.200l2.300,2.300"/></svg></div>
<svg class="abs" style="left:3.5px;top:189px" width="10" height="10" viewBox="0 0 10 10"><path d="M9,1v8h-8z" fill="#7a7a7a"/></svg>
<span class="lg" style="left:22px;top:188px">Vertices</span>
<svg class="abs" style="left:3.5px;top:377px" width="10" height="10" viewBox="0 0 10 10"><path d="M9,1v8h-8z" fill="#7a7a7a"/></svg>
<span class="lg" style="left:22px;top:376px">Edges</span>
<svg class="abs" style="left:21px;top:213px" width="32" height="32" viewBox="-16 -16 32 32"><circle r="15" fill="#3d89b9"/><path transform="scale(0.880)" d="M0,-7.7C2.4,-7.700 3.900,-5.900 3.900,-3.400C3.900,-1.500 3,0 2,1.200C1.600,1.800 1.800,2.600 2.500,3L5.900,4.600C6.800,5.100 7.300,5.700 7.300,6.600C7.300,7.400 6.800,7.900 6,7.900H-6C-6.800,7.900 -7.300,7.400 -7.300,6.600C-7.300,5.700 -6.800,5.100 -5.900,4.600L-2.500,3C-1.800,2.600 -1.600,1.800 -2,1.200C-3,0 -3.900,-1.500 -3.900,-3.400C-3.900,-5.900 -2.400,-7.700 0,-7.700Z" fill="none" stroke="#fff" stroke-opacity="0.5" stroke-width="1.48" stroke-linejoin="round"/></svg><span class="lg" style="left:59px;top:222.2px">c2</span>
<svg class="abs" style="left:21px;top:251px" width="32" height="32" viewBox="-16 -16 32 32"><circle r="15" fill="#7fc393"/><g transform="scale(0.648)" fill="none" stroke="#fff" stroke-opacity=".8" stroke-width="1.2" stroke-linecap="round" stroke-linejoin="round"><path d="M-11.3,-8.1H-9.7L-5.1,4.8H9.1"/><path d="M-8.7,-5H12.4L10.2,1.700H-6.100"/><circle cx="-3.900" cy="7.800" r="1.250" fill="#fff" fill-opacity=".6" stroke="none"/><circle cx="6.900" cy="7.800" r="1.250" fill="#fff" fill-opacity=".6" stroke="none"/></g></svg><span class="lg" style="left:59px;top:260.2px">p1</span>
<svg class="abs" style="left:21px;top:289px" width="32" height="32" viewBox="-16 -16 32 32"><circle r="15" fill="#e5725a"/><g transform="scale(0.648)" fill="none" stroke="#fff" stroke-opacity=".8" stroke-width="1.2" stroke-linecap="round" stroke-linejoin="round"><path d="M-11.3,-8.1H-9.7L-5.1,4.8H9.1"/><path d="M-8.7,-5H12.4L10.2,1.700H-6.100"/><circle cx="-3.900" cy="7.800" r="1.250" fill="#fff" fill-opacity=".6" stroke="none"/><circle cx="6.900" cy="7.800" r="1.250" fill="#fff" fill-opacity=".6" stroke="none"/></g></svg><span class="lg" style="left:59px;top:298.2px">p2</span>
<svg class="abs" style="left:21px;top:327px" width="32" height="32" viewBox="-16 -16 32 32"><circle r="15" fill="#f6c064"/><path transform="scale(0.880)" d="M0,-7.7C2.4,-7.700 3.900,-5.900 3.900,-3.400C3.900,-1.500 3,0 2,1.200C1.600,1.800 1.800,2.600 2.500,3L5.900,4.600C6.800,5.100 7.300,5.700 7.300,6.600C7.300,7.400 6.800,7.900 6,7.900H-6C-6.800,7.900 -7.300,7.400 -7.300,6.600C-7.300,5.700 -6.800,5.100 -5.900,4.600L-2.500,3C-1.800,2.600 -1.600,1.800 -2,1.200C-3,0 -3.900,-1.500 -3.900,-3.400C-3.900,-5.900 -2.400,-7.700 0,-7.700Z" fill="none" stroke="#fff" stroke-opacity="0.5" stroke-width="1.48" stroke-linejoin="round"/></svg><span class="lg" style="left:59px;top:336.2px">c1</span>
<svg class="abs" style="left:21px;top:409px" width="34" height="16" viewBox="0 0 34 16"><path d="M1,8h22" stroke="#d0d0d0" stroke-width="1.500"/><path d="M32,8l-10,-4.500v9z" fill="#bdbdbd"/></svg><span class="lg" style="left:59px;top:410.2px">e1</span>
<svg class="abs" style="left:21px;top:447px" width="34" height="16" viewBox="0 0 34 16"><path d="M1,8h22" stroke="#d0d0d0" stroke-width="1.500"/><path d="M32,8l-10,-4.500v9z" fill="#bdbdbd"/></svg><span class="lg" style="left:59px;top:448.2px">e2</span>
<svg class="abs" style="left:21px;top:485px" width="34" height="16" viewBox="0 0 34 16"><path d="M1,8h22" stroke="#d0d0d0" stroke-width="1.500"/><path d="M32,8l-10,-4.500v9z" fill="#bdbdbd"/></svg><span class="lg" style="left:59px;top:486.2px">e3</span>
</div>
<div class="abs" style="left:0;top:880px;width:1462px;height:42px;font-size:14.200px;color:#6b6b6b">
<span class="abs" style="left:26px;top:12px">Page</span><span class="abs" style="left:79px;top:12px">1</span><span class="abs" style="left:105px;top:12px">of 1</span>
<div class="abs" style="left:141px;top:2px;width:1px;height:34px;background:#e2e2e2"></div>
<svg class="abs" style="left:155px;top:13px" width="16" height="16" viewBox="0 0 16 16"><path d="M4.700,3.800v8.400M11.300,3.800l-4.800,4.200l4.800,4.200" stroke="#cbcdce" stroke-width="1.300" fill="none"/></svg>
<svg class="abs" style="left:187px;top:13px" width="16" height="16" viewBox="0 0 16 16"><path d="M10.200,3.800l-4.800,4.200l4.800,4.200" stroke="#cbcdce" stroke-width="1.300" fill="none"/></svg>
<div class="abs" style="left:211px;top:7px;width:24px;height:27px;border:1px solid #4d4d4d;color:#333;text-align:center;line-height:26px;font-size:14.200px">1</div>
<svg class="abs" style="left:243px;top:13px" width="16" height="16" viewBox="0 0 16 16"><path d="M5.800,3.800l4.800,4.200l-4.800,4.200" stroke="#cbcdce" stroke-width="1.300" fill="none"/></svg>
<svg class="abs" style="left:275px;top:13px" width="16" height="16" viewBox="0 0 16 16"><path d="M11.300,3.800v8.400M4.700,3.800l4.800,4.200l-4.800,4.200" stroke="#cbcdce" stroke-width="1.300" fill="none"/></svg>
</div>
<div class="abs" style="left:0;top:932px;width:1462px;height:50px;background:#f4f4f4;border-top:1px solid #e4e6e6"><span class="abs" style="left:31px;top:10.300px;font-size:12.900px;color:#333;white-space:nowrap">Copyright © 2014, 2020 Oracle and/or its affiliates All rights reserved.</span></div>
<div id="vscroll" class="abs"></div>
</body></html>
